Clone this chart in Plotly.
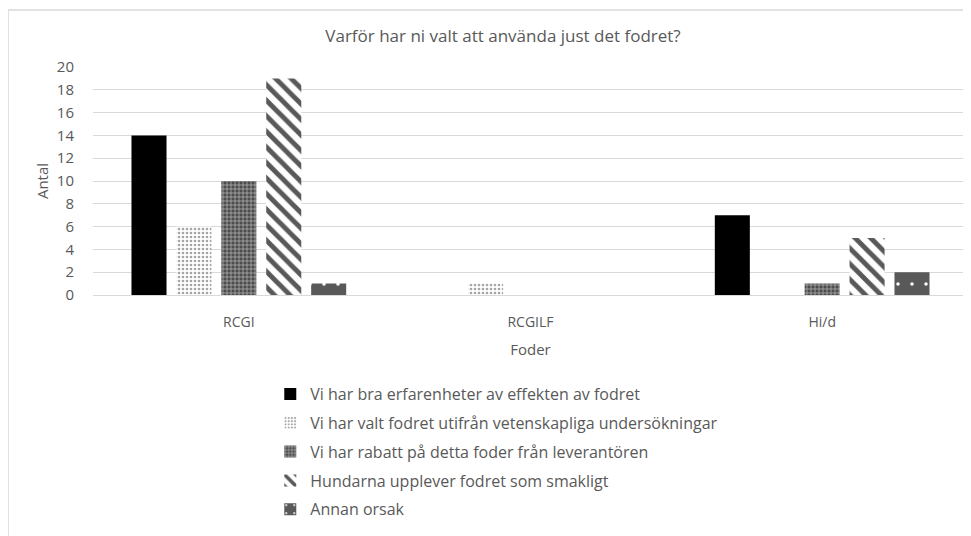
import plotly.graph_objects as go

categories = ["RCGI", "RCGILF", "Hi/d"]
series_names = [
    "Vi har bra erfarenheter av effekten av fodret",
    "Vi har valt fodret utifrån vetenskapliga undersökningar",
    "Vi har rabatt på detta foder från leverantören",
    "Hundarna upplever fodret som smakligt",
    "Annan orsak",
]
erfarenhet = [14, 0, 7]
vetenskap = [6, 1, 0]
rabatt = [10, 0, 1]
smakligt = [19, 0, 5]
annan = [1, 0, 2]
values = [erfarenhet, vetenskap, rabatt, smakligt, annan]
y_ticks = [0, 2, 4, 6, 8, 10, 12, 14, 16, 18, 20]

styles = [
    dict(color="#000000", pattern=dict(shape="")),
    dict(color="#ffffff", pattern=dict(shape=".", fgcolor="#a6a6a6", size=4, solidity=0.35, fillmode="overlay", fgopacity=1)),
    dict(color="#4d4d4d", pattern=dict(shape="+", fgcolor="#ffffff", size=4, solidity=0.25, fillmode="overlay", fgopacity=0.75)),
    dict(color="#ffffff", pattern=dict(shape="\\", fgcolor="#595959", size=11, solidity=0.45, fillmode="overlay", fgopacity=1)),
    dict(color="#595959", pattern=dict(shape=".", fgcolor="#ffffff", size=14, solidity=0.05, fillmode="overlay", fgopacity=1)),
]

fig = go.Figure()
for i, (name, vals) in enumerate(zip(series_names, values)):
    st = styles[i]
    fig.add_trace(go.Bar(
        x=categories, y=vals, name=name,
        legendgroup=f"g{i}",
        marker=dict(color=st["color"], pattern=st["pattern"], line=dict(width=0)),
    ))

font_main = "'Open Sans', Lato, sans-serif"
fig.update_layout(
    width=963, height=528,
    margin=dict(l=85, r=3, t=59, b=241, autoexpand=False),
    paper_bgcolor="white", plot_bgcolor="white",
    barmode="group", bargap=0.23, bargroupgap=0.22,
    font=dict(family=font_main, size=14, color="#595959"),
    title=dict(text="Varför har ni valt att använda just det fodret?",
               x=0.4686, xref="paper", xanchor="center", y=0.947, yanchor="middle",
               font=dict(family=font_main, size=17, color="#595959")),
    xaxis=dict(showgrid=False, showline=True, linecolor="#d9d9d9", linewidth=1,
               ticks="", ticklabelstandoff=14, tickfont=dict(size=14),
               title=dict(text="Foder", standoff=14, font=dict(size=15))),
    yaxis=dict(range=[0, 20], tickvals=y_ticks, showgrid=True, gridcolor="#d9d9d9", gridwidth=1,
               zeroline=False, showline=False, ticks="", ticklabelstandoff=18, tickfont=dict(size=15),
               title=dict(text="Antal", standoff=4, font=dict(size=15))),
    legend=dict(orientation="v", x=0.2026, xanchor="left", y=-0.36, yanchor="top",
                tracegroupgap=5, font=dict(size=16, color="#595959"), itemwidth=30,
                bgcolor="rgba(0,0,0,0)"),
    shapes=[dict(type="rect", xref="paper", yref="paper",
                 x0=-0.0971, x1=1.01, y0=-1.2, y1=1.25,
                 line=dict(color="#d9d9d9", width=1.5), fillcolor="rgba(0,0,0,0)", layer="below")],
)

fig.write_html("out.html")
